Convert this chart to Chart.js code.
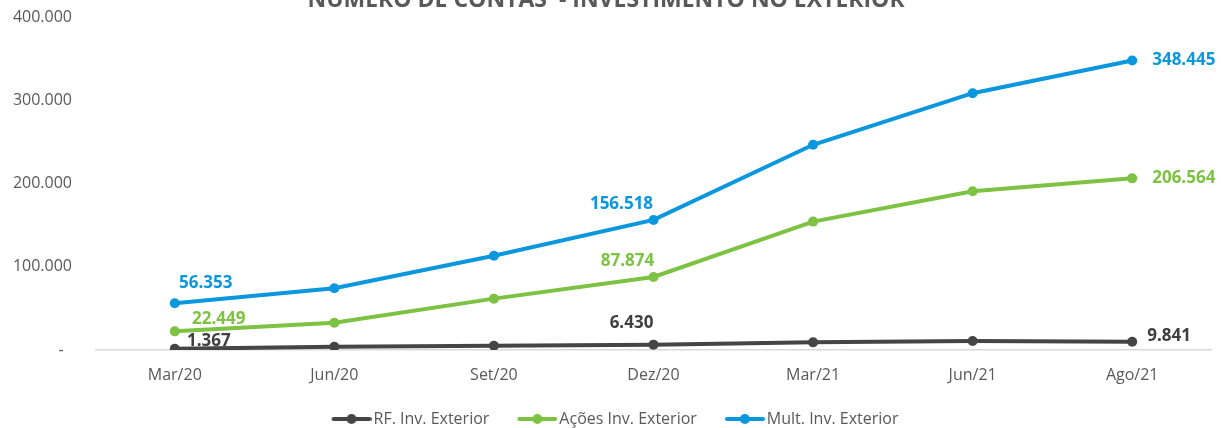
<!DOCTYPE html>
<html>
<head>
<meta charset="utf-8">
<script src="https://cdn.jsdelivr.net/npm/chart.js@4"></script>
<style>
  html, body { margin: 0; padding: 0; background: #ffffff; overflow: hidden; }
  #wrap { position: absolute; left: 0; top: -15px; width: 1221px; height: 452px; }
</style>
</head>
<body>
<div id="wrap"><canvas id="c"></canvas></div>
<script>
const categories = ['Mar/20', 'Jun/20', 'Set/20', 'Dez/20', 'Mar/21', 'Jun/21', 'Ago/21'];
const rfValues = [1367, 4000, 5200, 6430, 9200, 10800, 9841];
const acoesValues = [22449, 32800, 61800, 87874, 154500, 191000, 206564];
const multValues = [56353, 74400, 113500, 156518, 247000, 309000, 348445];
const seriesNames = ['RF. Inv. Exterior', 'Ações Inv. Exterior', 'Mult. Inv. Exterior'];
const yTicks = [0, 100000, 200000, 300000, 400000];
const titleText = 'NÚMERO DE CONTAS  - INVESTIMENTO NO EXTERIOR';

const colors = ['#454545', '#7DC242', '#0A97DD'];

function fmt(v) {
  return String(Math.round(v)).replace(/\B(?=(\d{3})+(?!\d))/g, '.');
}

function legendMarker(color) {
  const c = document.createElement('canvas');
  c.width = 64; c.height = 12;
  const x = c.getContext('2d');
  x.strokeStyle = color; x.lineWidth = 4; x.lineCap = 'round';
  x.beginPath(); x.moveTo(26, 6); x.lineTo(62, 6); x.stroke();
  x.fillStyle = color;
  x.beginPath(); x.arc(44, 6, 5, 0, Math.PI * 2); x.fill();
  return c;
}

const labelPlugin = {
  id: 'pointLabels',
  afterDatasetsDraw(chart, args, opts) {
    const ctx = chart.ctx;
    chart.data.datasets.forEach((ds, di) => {
      const meta = chart.getDatasetMeta(di);
      (opts.spots[di] || []).forEach(s => {
        const el = meta.data[s.i];
        ctx.save();
        ctx.font = 'bold 17px "Open Sans"';
        ctx.fillStyle = opts.colors[di];
        ctx.textAlign = s.align;
        ctx.textBaseline = 'middle';
        ctx.fillText(fmt(ds.data[s.i]), el.x + s.dx, el.y + s.dy);
        ctx.restore();
      });
    });
  }
};

const seriesData = [rfValues, acoesValues, multValues];
const datasets = seriesData.map((d, i) => ({
  label: seriesNames[i],
  data: d,
  borderColor: colors[i],
  backgroundColor: colors[i],
  borderWidth: 4,
  pointRadius: 5,
  pointHoverRadius: 5,
  pointBackgroundColor: colors[i],
  pointBorderWidth: 0,
  tension: 0,
  fill: false
}));

new Chart(document.getElementById('c'), {
  type: 'line',
  data: { labels: categories, datasets: datasets },
  plugins: [labelPlugin],
  options: {
    responsive: true,
    maintainAspectRatio: false,
    animation: false,
    layout: { autoPadding: false, padding: { left: 0, right: 9, top: 0, bottom: 0 } },
    plugins: {
      title: {
        display: true,
        text: titleText,
        color: '#595959',
        font: { family: '"Open Sans"', size: 23, weight: 'bold', lineHeight: 1.2 },
        padding: { top: -3, bottom: 3.6 }
      },
      legend: {
        position: 'bottom',
        labels: {
          usePointStyle: true,
          pointStyleWidth: 52,
          padding: 10,
          color: '#595959',
          font: { family: '"Open Sans"', size: 16 },
          generateLabels(chart) {
            return chart.data.datasets.map((ds, i) => ({
              text: ds.label,
              pointStyle: legendMarker(colors[i]),
              fillStyle: colors[i],
              strokeStyle: colors[i],
              lineWidth: 0,
              hidden: false,
              datasetIndex: i,
              fontColor: '#595959'
            }));
          }
        }
      },
      tooltip: { enabled: false },
      pointLabels: {
        colors: ['#404040', '#7DC242', '#0A97DD'],
        spots: [
          [{ i: 0, align: 'center', dx: 34, dy: -8 }, { i: 3, align: 'center', dx: -22, dy: -22 }, { i: 6, align: 'left', dx: 15, dy: -6 }],
          [{ i: 0, align: 'center', dx: 44, dy: -12 }, { i: 3, align: 'center', dx: -26, dy: -16 }, { i: 6, align: 'left', dx: 20, dy: 0 }],
          [{ i: 0, align: 'center', dx: 31, dy: -20 }, { i: 3, align: 'center', dx: -32, dy: -16 }, { i: 6, align: 'left', dx: 20, dy: 0 }]
        ]
      }
    },
    scales: {
      x: {
        offset: true,
        grid: { display: false },
        border: { display: false },
        ticks: {
          color: '#595959',
          font: { family: '"Open Sans"', size: 16 },
          padding: 8,
          maxRotation: 0
        },
        afterFit(scale) { scale.height = 51; }
      },
      y: {
        min: yTicks[0],
        max: yTicks[yTicks.length - 1],
        afterBuildTicks(scale) { scale.ticks = yTicks.map(v => ({ value: v })); },
        grid: {
          drawTicks: false,
          lineWidth: 1.5,
          color: ctx => (ctx.tick && ctx.tick.value === 0 ? '#d9d9d9' : 'rgba(0,0,0,0)')
        },
        border: { display: false },
        ticks: {
          color: '#595959',
          font: { family: '"Open Sans"', size: 16 },
          padding: 23,
          callback: v => (v === 0 ? '-  ' : fmt(v))
        },
        afterFit(scale) { scale.width = 95; }
      }
    }
  }
});
</script>
</body>
</html>
